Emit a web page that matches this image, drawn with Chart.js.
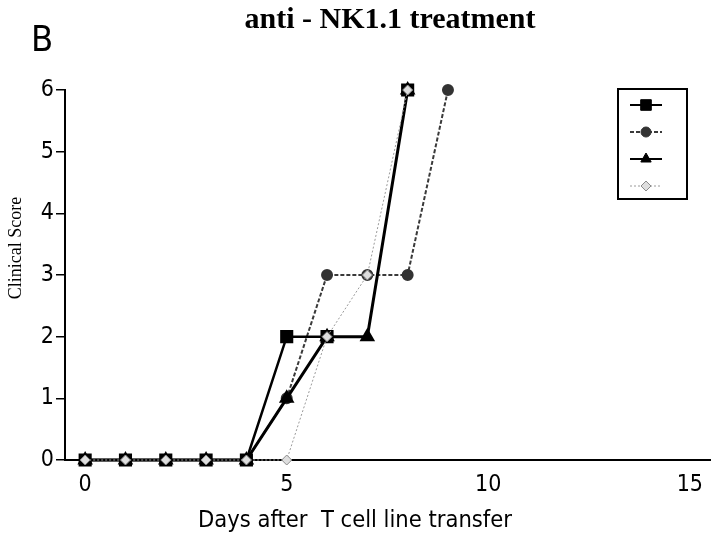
<!DOCTYPE html>
<html>
<head>
<meta charset="utf-8">
<script src="https://cdn.jsdelivr.net/npm/chart.js@4/dist/chart.umd.min.js"></script>
<style>
  html, body { margin: 0; padding: 0; background: #fff; }
  #wrap { width: 720px; height: 538px; }
</style>
</head>
<body>
<div id="wrap"><canvas id="score-chart" width="720" height="538"></canvas></div>
<script>
// Chart data; null = no mark visible on that day
var days = [0, 1, 2, 3, 4, 5, 6, 7, 8, 9];
var squareScores = [0, 0, 0, 0, 0, 2, 2, null, 6];
var circleScores = [0, 0, 0, 0, 0, 1, 3, 3, 3, 6];
var triangleScores = [0, 0, 0, 0, 0, 1, 2, 2, 6];
var diamondScores = [0, 0, 0, 0, 0, 0, 2, 3, 6];
var xTicks = [0, 5, 10, 15];
var yTicks = [0, 1, 2, 3, 4, 5, 6];

var titleText = 'anti - NK1.1 treatment';
var panelText = 'B';
var xTitle = 'Days after  T cell line transfer';
var yTitle = 'Clinical Score';

var sansFont = '"Liberation Sans Narrow", "DejaVu Sans Condensed", "Liberation Sans", sans-serif';
var serifFont = '"Liberation Serif", "DejaVu Serif", serif';

function toPoints(scores) {
  return scores.map(function (s, i) { return { x: days[i], y: s }; });
}

// Legend box without labels, as in the original figure
var legendBox = {
  id: 'legendBox',
  afterDraw: function (chart) {
    var ctx = chart.ctx;
    ctx.save();
    ctx.strokeStyle = '#000';
    ctx.lineWidth = 2;
    ctx.strokeRect(618, 89, 69, 110);
    var rows = [105, 132, 159, 186];
    chart.data.datasets.forEach(function (ds, i) {
      var y = rows[i];
      ctx.strokeStyle = ds.borderColor;
      ctx.lineWidth = Math.min(ds.borderWidth, 2);
      ctx.setLineDash(ds.borderDash || []);
      ctx.beginPath();
      ctx.moveTo(630, y);
      ctx.lineTo(662, y);
      ctx.stroke();
      ctx.setLineDash([]);
      ctx.fillStyle = ds.pointBackgroundColor;
      ctx.strokeStyle = ds.pointBorderColor;
      ctx.lineWidth = 1;
      Chart.helpers.drawPoint(ctx, {
        pointStyle: ds.pointStyle,
        radius: ds.pointRadius,
        rotation: 0,
        borderWidth: 1
      }, 646, y);
    });
    ctx.restore();
  }
};

// Titles and axis names
var textLayer = {
  id: 'textLayer',
  afterDraw: function (chart) {
    var ctx = chart.ctx;
    ctx.save();
    ctx.fillStyle = '#000';
    ctx.textBaseline = 'alphabetic';

    ctx.font = 'bold 30px ' + serifFont;
    ctx.textAlign = 'center';
    ctx.fillText(titleText, 390, 28);

    ctx.font = '36px ' + sansFont;
    ctx.textAlign = 'left';
    ctx.fillText(panelText, 31, 51);

    ctx.font = '23.5px ' + sansFont;
    ctx.textAlign = 'center';
    ctx.fillText(xTitle, 355, 527);

    ctx.translate(16, 248);
    ctx.rotate(-Math.PI / 2);
    ctx.font = '18px ' + serifFont;
    ctx.textBaseline = 'middle';
    ctx.fillText(yTitle, 0, 0);
    ctx.restore();
  }
};

var chartConfig = {
  type: 'line',
  data: {
    datasets: [
      {
        data: toPoints(squareScores),
        borderColor: '#000',
        borderWidth: 2.5,
        pointStyle: 'rect',
        pointRadius: 7.5,
        pointBackgroundColor: '#000',
        pointBorderColor: '#000',
        spanGaps: false,
        order: 1
      },
      {
        data: toPoints(circleScores),
        borderColor: '#3a3a3a',
        borderWidth: 2,
        borderDash: [4, 2],
        pointStyle: 'circle',
        pointRadius: 5,
        pointBackgroundColor: '#333',
        pointBorderColor: '#333',
        order: 3
      },
      {
        data: toPoints(triangleScores),
        borderColor: '#000',
        borderWidth: 3,
        pointStyle: 'triangle',
        pointRadius: 6,
        pointBackgroundColor: '#000',
        pointBorderColor: '#000',
        order: 2
      },
      {
        data: toPoints(diamondScores),
        borderColor: '#9a9a9a',
        borderWidth: 1,
        borderDash: [2, 2],
        pointStyle: 'rectRot',
        pointRadius: 5,
        pointBackgroundColor: '#dedede',
        pointBorderColor: '#8a8a8a',
        order: 0
      }
    ]
  },
  options: {
    responsive: false,
    animation: false,
    events: [],
    layout: { padding: { top: 90, right: 5, left: 0, bottom: 0 } },
    elements: {
      line: { tension: 0, fill: false },
      point: { borderWidth: 1, hoverRadius: 6 }
    },
    datasets: { line: { clip: false } },
    plugins: {
      legend: { display: false },
      title: { display: false },
      tooltip: { enabled: false }
    },
    scales: {
      x: {
        type: 'linear',
        min: -0.5,
        max: 15.5,
        afterBuildTicks: function (scale) {
          scale.ticks = xTicks.map(function (v) { return { value: v }; });
        },
        afterFit: function (scale) { scale.height = 78; },
        grid: { display: false, drawTicks: false },
        border: { display: true, color: '#000', width: 2 },
        ticks: {
          color: '#000',
          padding: 11,
          maxRotation: 0,
          font: { family: sansFont, size: 23 }
        }
      },
      y: {
        type: 'linear',
        min: 0,
        max: 6,
        afterBuildTicks: function (scale) {
          scale.ticks = yTicks.map(function (v) { return { value: v }; });
        },
        afterFit: function (scale) { scale.width = 65; },
        grid: {
          drawOnChartArea: false,
          drawTicks: true,
          tickLength: 9,
          color: '#000',
          lineWidth: 1.5
        },
        border: { display: true, color: '#000', width: 2 },
        ticks: {
          color: '#000',
          padding: 2,
          font: { family: sansFont, size: 23 }
        }
      }
    }
  },
  plugins: [legendBox, textLayer]
};

var scoreChart = new Chart(document.getElementById('score-chart'), chartConfig);
</script>
</body>
</html>
